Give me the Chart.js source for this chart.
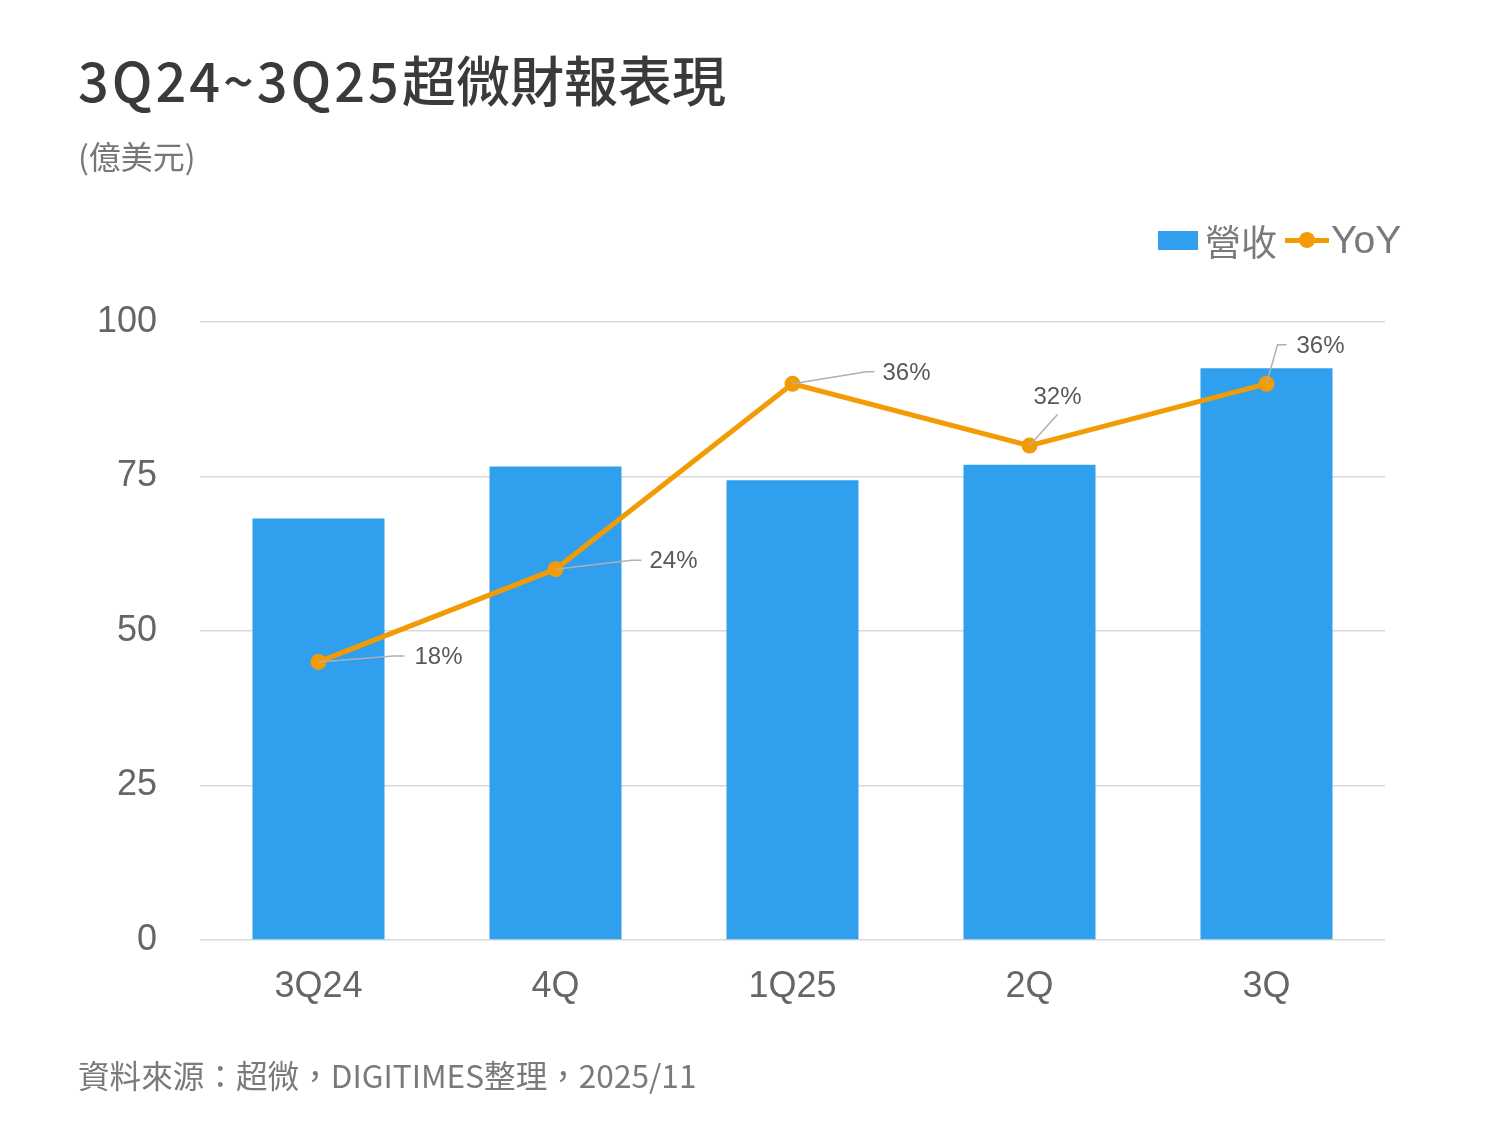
<!DOCTYPE html>
<html>
<head>
<meta charset="utf-8">
<script src="https://cdn.jsdelivr.net/npm/chart.js@4"></script>
<style>
  body { margin: 0; background: #fff; }
  #wrap { position: relative; width: 1500px; height: 1125px; overflow: hidden; }
  #chart { position: absolute; left: 0; top: 0; }
  .txt { position: absolute; white-space: nowrap; line-height: 1; font-family: "Noto Sans CJK TC", "Liberation Sans", sans-serif; }
  #title { left: 78px; top: 52px; font-size: 54px; font-weight: 500; color: #3a3a3a; }
  #title .lat { letter-spacing: 3px; }
  #unit { left: 78px; top: 139px; font-size: 32px; color: #777; }
  #source { left: 78px; top: 1059px; font-size: 31.6px; color: #7a7a7a; }
  #legend { position: absolute; left: 1158px; top: 218px; height: 44px; display: flex; align-items: center; font-family: "Liberation Sans", "Noto Sans CJK TC", sans-serif; font-size: 36px; color: #7a7a7a; }
  #legend .lat { font-size: 39px; }
  .lg-item { display: flex; align-items: center; margin-right: 8px; }
  .lg-box { width: 40px; height: 19px; margin-right: 7px; }
  .lg-line { position: relative; width: 44px; height: 5px; margin-right: 2px; }
  .lg-dot { position: absolute; left: 14px; top: -6px; width: 16px; height: 16px; border-radius: 50%; }
</style>
</head>
<body>
<div id="wrap">
  <canvas id="chart" width="1500" height="1125"></canvas>
  <div class="txt" id="title"><span class="lat">3Q24~3Q25</span>超微財報表現</div>
  <div class="txt" id="unit">(億美元)</div>
  <div id="legend"></div>
  <div class="txt" id="source">資料來源：超微，DIGITIMES整理，2025/11</div>
</div>
<script>
const categories = ['3Q24', '4Q', '1Q25', '2Q', '3Q'];
const revenue = [68.2, 76.6, 74.4, 76.9, 92.5];
const yoy = [18, 24, 36, 32, 36];
const yTicks = [0, 25, 50, 75, 100];

const barColor = '#309fee';
const lineColor = '#f29b05';

// where each YoY label sits relative to its point: elbow, line end, text anchor
const labelSpots = [
  { elbow: [75, -6], end: [86, -6], text: [96, -5], align: 'left' },
  { elbow: [76, -9], end: [86, -9], text: [94, -8], align: 'left' },
  { elbow: [74, -12], end: [82, -12], text: [90, -10], align: 'left' },
  { elbow: [28, -31], end: [28, -31], text: [28, -48], align: 'center' },
  { elbow: [11, -39], end: [20, -39], text: [30, -37], align: 'left' }
];

const leaderLabels = {
  id: 'leaderLabels',
  afterDatasetsDraw(chart) {
    const meta = chart.getDatasetMeta(0);
    const ctx = chart.ctx;
    ctx.save();
    meta.data.forEach((pt, i) => {
      const s = labelSpots[i];
      ctx.strokeStyle = '#b0b0b0';
      ctx.lineWidth = 1.5;
      ctx.beginPath();
      ctx.moveTo(pt.x, pt.y);
      ctx.lineTo(pt.x + s.elbow[0], pt.y + s.elbow[1]);
      ctx.lineTo(pt.x + s.end[0], pt.y + s.end[1]);
      ctx.stroke();
      ctx.font = '24px "Liberation Sans", Arial, sans-serif';
      ctx.fillStyle = '#595959';
      ctx.textAlign = s.align;
      ctx.textBaseline = 'middle';
      ctx.fillText(yoy[i] + '%', pt.x + s.text[0], pt.y + s.text[1]);
    });
    ctx.restore();
  }
};

new Chart(document.getElementById('chart'), {
  data: {
    labels: categories,
    datasets: [
      {
        type: 'line',
        label: 'YoY',
        data: yoy,
        yAxisID: 'y1',
        order: 0,
        borderColor: lineColor,
        backgroundColor: lineColor,
        borderWidth: 5,
        pointRadius: 8,
        pointHoverRadius: 8,
        pointBorderWidth: 0,
        tension: 0
      },
      {
        type: 'bar',
        label: '營收',
        data: revenue,
        yAxisID: 'y',
        order: 1,
        backgroundColor: barColor,
        barPercentage: 0.557,
        categoryPercentage: 1
      }
    ]
  },
  plugins: [leaderLabels],
  options: {
    responsive: false,
    devicePixelRatio: 1,
    animation: false,
    layout: { padding: { left: 0, right: 115, top: 322, bottom: 0 } },
    plugins: {
      legend: { display: false },
      tooltip: { enabled: false }
    },
    scales: {
      x: {
        grid: { display: false },
        border: { display: false },
        ticks: {
          color: '#666',
          padding: 17,
          font: { family: '"Liberation Sans", Arial, sans-serif', size: 36 }
        },
        afterFit(scale) { scale.height = 185; }
      },
      y: {
        min: 0,
        max: 100,
        afterBuildTicks(scale) { scale.ticks = yTicks.map(v => ({ value: v })); },
        grid: { color: '#d9d9d9', lineWidth: 1.5, drawTicks: false },
        border: { display: false },
        ticks: {
          color: '#666',
          padding: 43,
          font: { family: '"Liberation Sans", Arial, sans-serif', size: 36 }
        },
        afterFit(scale) { scale.width = 200; }
      },
      y1: {
        display: false,
        min: 0,
        max: 40
      }
    }
  }
});

// legend built from the series names and colours
const legend = document.getElementById('legend');
legend.innerHTML =
  '<div class="lg-item"><div class="lg-box" style="background:' + barColor + '"></div><span>營收</span></div>' +
  '<div class="lg-item"><div class="lg-line" style="background:' + lineColor + '"><div class="lg-dot" style="background:' + lineColor + '"></div></div><span class="lat">YoY</span></div>';
</script>
</body>
</html>
